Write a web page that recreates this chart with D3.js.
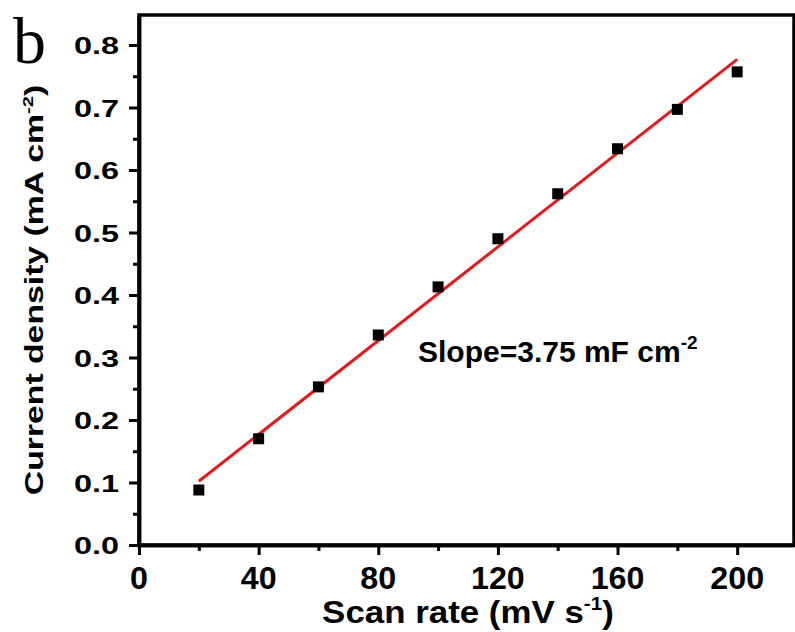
<!DOCTYPE html>
<html>
<head>
<meta charset="utf-8">
<script src="https://cdn.jsdelivr.net/npm/d3@7"></script>
<style>
  html, body { margin: 0; padding: 0; background: #fff; }
  svg { display: block; }
  text { font-family: "Liberation Sans", Arial, sans-serif; font-weight: bold; fill: #000; }
</style>
</head>
<body>
<svg id="chart" width="795" height="632"></svg>
<script>
// Scan rates (mV s^-1) and measured current densities (mA cm^-2)
const scanRates = [20, 40, 60, 80, 100, 120, 140, 160, 180, 200];
const currentDensity = [0.088, 0.170, 0.253, 0.336, 0.413, 0.490, 0.562, 0.634, 0.697, 0.757];

// Linear fit: slope in mF cm^-2 (= 0.001 mA cm^-2 per mV s^-1), intercept in mA cm^-2
const fitSlope = 3.75;
const fitIntercept = 0.027;

// Axis ticks
const xTicks = [0, 40, 80, 120, 160, 200];
const xMinorTicks = [20, 60, 100, 140, 180];
const yTicks = [0.0, 0.1, 0.2, 0.3, 0.4, 0.5, 0.6, 0.7, 0.8];
const yMinorTicks = [0.05, 0.15, 0.25, 0.35, 0.45, 0.55, 0.65, 0.75];

const svg = d3.select("#chart");
const plot = { left: 139, right: 794, top: 15, bottom: 545 };

const x = d3.scaleLinear().domain([0, 219]).range([plot.left, plot.right]);
const y = d3.scaleLinear().domain([0, 0.848]).range([plot.bottom, plot.top]);

// Plot frame
svg.append("rect")
  .attr("x", plot.left).attr("y", plot.top)
  .attr("width", plot.right - plot.left).attr("height", plot.bottom - plot.top)
  .attr("fill", "none").attr("stroke", "#000").attr("stroke-width", 3.5);

// Axes: major and minor ticks (labels drawn separately)
function styleAxis(g) {
  g.select(".domain").attr("stroke-width", 3.5);
  g.selectAll(".tick line").attr("stroke-width", 3);
}
svg.append("g").attr("transform", `translate(0,${plot.bottom})`)
  .call(d3.axisBottom(x).tickValues(xTicks).tickSize(10).tickSizeOuter(0).tickFormat(""))
  .call(styleAxis);
svg.append("g").attr("transform", `translate(0,${plot.bottom})`)
  .call(d3.axisBottom(x).tickValues(xMinorTicks).tickSize(6).tickSizeOuter(0).tickFormat(""))
  .call(styleAxis);
svg.append("g").attr("transform", `translate(${plot.left},0)`)
  .call(d3.axisLeft(y).tickValues(yTicks).tickSize(10).tickSizeOuter(0).tickFormat(""))
  .call(styleAxis);
svg.append("g").attr("transform", `translate(${plot.left},0)`)
  .call(d3.axisLeft(y).tickValues(yMinorTicks).tickSize(6).tickSizeOuter(0).tickFormat(""))
  .call(styleAxis);

// Tick labels
svg.append("g").selectAll("text").data(xTicks).join("text")
  .attr("transform", d => `translate(${x(d)},589) scale(1.04,1)`)
  .attr("text-anchor", "middle")
  .style("font-size", "31px")
  .text(d => d);

svg.append("g").selectAll("text").data(yTicks).join("text")
  .attr("transform", d => `translate(119,${y(d) + 9}) scale(1.38,1)`)
  .attr("text-anchor", "end")
  .style("font-size", "23.5px")
  .text(d => d3.format(".1f")(d));

// Axis titles
const xTitle = svg.append("text")
  .attr("transform", "translate(468,623) scale(1.09,1)")
  .attr("text-anchor", "middle")
  .style("font-size", "32px");
xTitle.append("tspan").text("Scan rate (mV s");
xTitle.append("tspan").attr("dy", -13).style("font-size", "19px").text("-1");
xTitle.append("tspan").attr("dy", 13).text(")");

const yTitle = svg.append("text")
  .attr("transform", "translate(43,290) rotate(-90) scale(1.35,1)")
  .attr("text-anchor", "middle")
  .style("font-size", "25px");
yTitle.append("tspan").text("Current density (mA cm");
yTitle.append("tspan").attr("dy", -10).style("font-size", "15px").text("-2");
yTitle.append("tspan").attr("dy", 10).text(")");

// Fitted line over the measured range
const fit = v => fitIntercept + fitSlope / 1000 * v;
const xExtent = d3.extent(scanRates);
svg.append("line")
  .attr("x1", x(xExtent[0])).attr("y1", y(fit(xExtent[0])))
  .attr("x2", x(xExtent[1])).attr("y2", y(fit(xExtent[1])))
  .attr("stroke", "#e3191b").attr("stroke-width", 3);

// Data markers
const size = 11;
svg.append("g").selectAll("rect").data(scanRates).join("rect")
  .attr("x", d => x(d) - size / 2)
  .attr("y", (d, i) => y(currentDensity[i]) - size / 2)
  .attr("width", size).attr("height", size)
  .attr("fill", "#000");

// Slope annotation
const note = svg.append("text")
  .attr("x", 418).attr("y", 362)
  .style("font-size", "30px");
note.append("tspan").text(`Slope=${fitSlope} mF cm`);
note.append("tspan").attr("dy", -13).style("font-size", "19px").text("-2");

// Panel label
svg.append("text")
  .attr("x", 13).attr("y", 63)
  .style("font-family", "'Liberation Serif', 'Times New Roman', serif")
  .style("font-weight", "normal")
  .style("font-size", "66px")
  .text("b");
</script>
</body>
</html>
